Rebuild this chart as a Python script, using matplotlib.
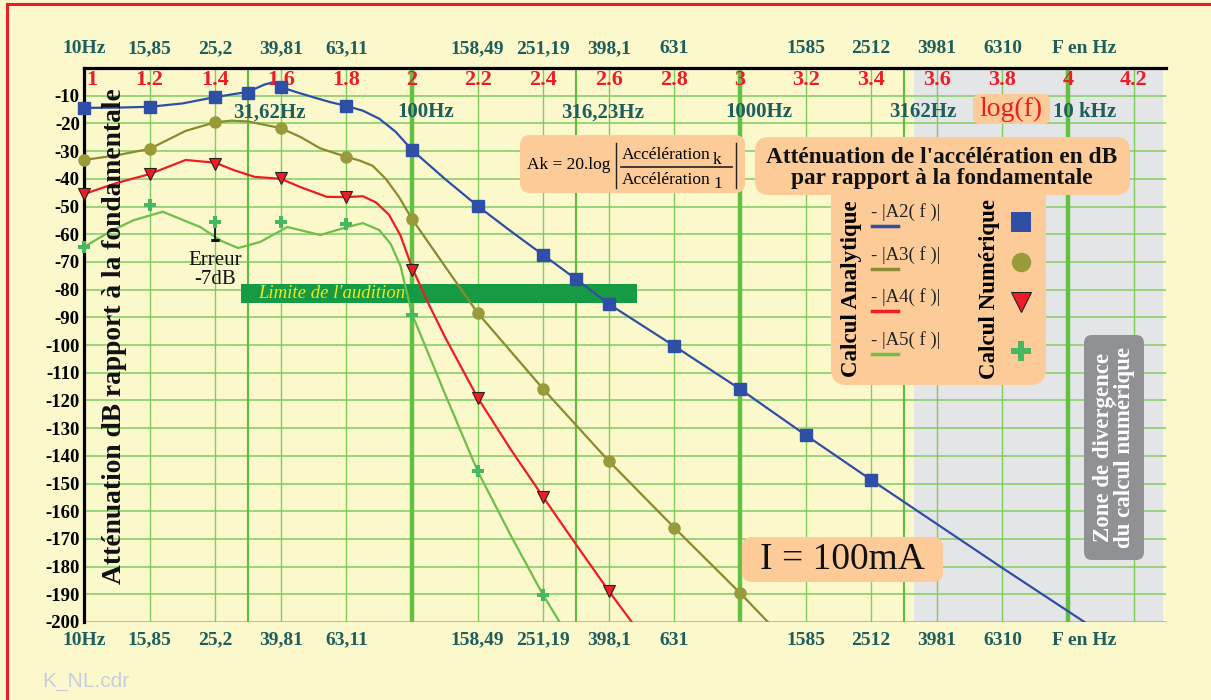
import matplotlib
matplotlib.use("Agg")
import matplotlib.pyplot as plt
import matplotlib.transforms as mtransforms
from matplotlib.patches import FancyBboxPatch, Rectangle
from matplotlib.lines import Line2D

# ==========================================
# Donnees (x = log10(f), y = dB)
# ==========================================
freq_pos = [1.0, 1.2, 1.4, 1.6, 1.8, 2.2, 2.4, 2.6, 2.8, 3.2, 3.4, 3.6, 3.8, 4.05]
freq_labels = ["10Hz", "15,85", "25,2", "39,81", "63,11", "158,49", "251,19",
               "398,1", "631", "1585", "2512", "3981", "6310", "F en Hz"]
log_pos = [1.0, 1.2, 1.4, 1.6, 1.8, 2.0, 2.2, 2.4, 2.6, 2.8, 3.0, 3.2, 3.4,
           3.6, 3.8, 4.0, 4.2]
log_labels = ["1", "1.2", "1.4", "1.6", "1.8", "2", "2.2", "2.4", "2.6", "2.8",
              "3", "3.2", "3.4", "3.6", "3.8", "4", "4.2"]
half_pos = [1.5, 2.0, 2.5, 3.0, 3.5, 4.0]
half_labels = ["31,62Hz", "100Hz", "316,23Hz", "1000Hz", "3162Hz", "10 kHz"]
db_ticks = [-10, -20, -30, -40, -50, -60, -70, -80, -90, -100, -110, -120,
            -130, -140, -150, -160, -170, -180, -190, -200]

# calcul analytique (courbes)
a2_x = [1.0, 1.1, 1.2, 1.3, 1.4, 1.5, 1.55, 1.575, 1.6, 1.65, 1.7, 1.75, 1.8,
        1.85, 1.9, 1.95, 2.0, 2.1, 2.2, 2.3, 2.4, 2.5, 2.6, 2.8, 3.0, 3.2, 3.4,
        3.6, 3.8, 4.05]
a2_y = [-14.4, -14.3, -14.0, -12.8, -10.5, -8.6, -6.0, -5.2, -6.9, -8.8, -10.6,
        -12.3, -13.7, -15.4, -18.3, -23.0, -29.6, -40.0, -49.8, -58.8, -67.5,
        -76.2, -85.2, -100.4, -115.9, -132.5, -148.7, -164.6, -180.5, -200.0]
a3_x = [1.0, 1.1, 1.2, 1.31, 1.4, 1.45, 1.5, 1.6, 1.66, 1.72, 1.8, 1.84, 1.88,
        1.92, 1.96, 2.0, 2.1, 2.2, 2.4, 2.6, 2.8, 3.0, 3.085]
a3_y = [-33.2, -31.5, -29.2, -22.7, -19.6, -19.0, -19.3, -21.7, -24.9, -29.0,
        -32.1, -33.4, -35.3, -40.0, -46.5, -54.5, -71.5, -88.4, -115.9, -141.9,
        -166.0, -189.5, -200.0]
a4_x = [1.0, 1.1, 1.2, 1.31, 1.4, 1.455, 1.52, 1.6, 1.66, 1.74, 1.8, 1.85,
        1.89, 1.93, 1.965, 2.0, 2.05, 2.1, 2.2, 2.3, 2.4, 2.5, 2.6, 2.67]
a4_y = [-45.5, -41.5, -38.3, -33.2, -34.2, -36.8, -39.3, -40.0, -43.0, -46.5,
        -46.6, -46.3, -48.5, -53.0, -60.5, -72.0, -85.0, -97.0, -119.0, -137.5,
        -154.9, -172.0, -188.8, -200.0]
a5_x = [1.0, 1.08, 1.15, 1.24, 1.354, 1.42, 1.47, 1.537, 1.62, 1.72, 1.8, 1.85,
        1.9, 1.935, 1.965, 2.0, 2.1, 2.2, 2.3, 2.4, 2.45]
a5_y = [-64.6, -59.0, -55.0, -51.9, -57.4, -62.5, -65.0, -62.8, -57.4, -60.3,
        -57.5, -56.0, -58.5, -63.5, -71.5, -88.8, -117.5, -145.5, -168.5,
        -190.3, -200.0]

# calcul numerique (points)
n2_x = [1.0, 1.2, 1.4, 1.5, 1.6, 1.8, 2.0, 2.2, 2.4, 2.5, 2.6, 2.8, 3.0, 3.2, 3.4]
n2_y = [-14.4, -14.1, -10.5, -9.0, -6.9, -13.7, -29.6, -49.8, -67.5, -76.2,
        -85.2, -100.4, -115.9, -132.5, -148.7]
n3_x = [1.0, 1.2, 1.4, 1.6, 1.8, 2.0, 2.2, 2.4, 2.6, 2.8, 3.0]
n3_y = [-33.2, -29.2, -19.5, -21.7, -32.1, -54.5, -88.4, -115.9, -141.9,
        -166.0, -189.5]
n4_x = [1.0, 1.2, 1.4, 1.6, 1.8, 2.0, 2.2, 2.4, 2.6]
n4_y = [-45.5, -38.3, -34.7, -39.7, -46.6, -72.9, -119.0, -154.9, -188.8]
n5_x = [1.0, 1.2, 1.4, 1.6, 1.8, 2.0, 2.2, 2.4]
n5_y = [-64.6, -49.5, -55.6, -55.6, -56.3, -89.2, -145.5, -190.3]

# erreur a 25,2 Hz et limite de l'audition
err_x = 1.4
err_y = [-55.4, -62.2]
audition_x = [1.48, 2.686]
audition_y = [-84.8, -78.0]
divergence_start = 3.53

# ==========================================
# Styles
# ==========================================
W, H = 1211, 700
SERIF = "Liberation Serif"
BG = "#fbf8cc"
PEACH = "#fccb98"
TEAL = "#1e5e5c"
RED = "#ee1c24"
C_BLUE = "#2e4fa5"
C_OLIVE = "#8c8a2e"
C_OLIVE_M = "#999a3a"
C_RED = "#ee1c24"
C_GREEN = "#6cbf48"
C_GREEN_M = "#45b860"

fig = plt.figure(figsize=(W / 100, H / 100), dpi=100, facecolor=BG)
ax = fig.add_axes([84 / W, 1 - 622 / H, (1166 - 84) / W, (622 - 68) / H])
ax.set_facecolor(BG)
ax.set_xlim(1.0, 1 + (1166 - 84) / 328)
ax.set_ylim(-200, 0)

# pixels de l'image (origine en haut a gauche)
PX = mtransforms.Affine2D().scale(1 / W, -1 / H).translate(0, 1) + fig.transFigure

# zone grise de divergence
ax.axvspan(divergence_start, 4.29, color="#e4e5e7", lw=0, zorder=0)

# quadrillage
for yv in range(-10, -201, -10):
    ax.axhline(yv, color="#92d273", lw=1.3, zorder=1)
for xv in log_pos[1:]:
    ax.axvline(xv, color="#7fcb5c", lw=1.0, zorder=1)
for xv in half_pos:
    if xv in (2.0, 3.0, 4.0):
        ax.axvline(xv, color="#62c043", lw=3.2, zorder=1)
    else:
        ax.axvline(xv, color="#5dbb3e", lw=1.5, zorder=1)

# limite de l'audition
ax.add_patch(Rectangle((audition_x[0], audition_y[0]), audition_x[1] - audition_x[0],
                       audition_y[1] - audition_y[0], color="#169a44", lw=0, zorder=2))
ax.text(audition_x[0] + 0.05, (audition_y[0] + audition_y[1]) / 2, "Limite de l'audition",
        color="#ecea1a", style="italic", family=SERIF, fontsize=13.5, va="center",
        ha="left", zorder=3)

# courbes analytiques
ax.plot(a2_x, a2_y, color=C_BLUE, lw=1.6, zorder=4)
ax.plot(a3_x, a3_y, color=C_OLIVE, lw=1.6, zorder=4)
ax.plot(a4_x, a4_y, color=C_RED, lw=1.6, zorder=4)
ax.plot(a5_x, a5_y, color=C_GREEN, lw=1.6, zorder=4)

# points numeriques
ax.plot(n2_x, n2_y, "s", color=C_BLUE, ms=8, zorder=8, clip_on=False)
ax.plot(n3_x, n3_y, "o", color=C_OLIVE_M, ms=8, zorder=8, clip_on=False)
ax.plot(n4_x, n4_y, "v", color=C_RED, mec="#222222", mew=0.8, ms=9, zorder=8,
        clip_on=False)
ax.plot(n5_x, n5_y, "P", color=C_GREEN_M, ms=8, mew=0, zorder=8, clip_on=False)

# barre d'erreur
ax.plot([err_x, err_x], err_y, color="#111111", lw=1.3, zorder=6)
ax.plot([err_x, err_x], [err_y[0], err_y[0]], marker="_", color="#111111", ms=6, mew=2, zorder=6)
ax.plot([err_x, err_x], [err_y[1], err_y[1]], marker="_", color="#111111", ms=6, mew=2, zorder=6)
ax.text(err_x, err_y[1] - 4, "Erreur\n-7dB", family=SERIF, fontsize=15, ha="center",
        va="top", linespacing=0.95, color="#111111", zorder=6)

# etiquettes log(f) et frequences internes
for xv, lab in zip(log_pos, log_labels):
    ax.text(xv + (0.006 if xv == 1.0 else 0), -4.4, lab, color=RED, family=SERIF,
            fontweight="bold", fontsize=16, ha="left" if xv == 1.0 else "center",
            va="center", zorder=6)
for xv, lab in zip(half_pos, half_labels):
    ax.text(xv - 0.045, -16.0, lab, color=TEAL, family=SERIF, fontweight="bold",
            fontsize=15, ha="left", va="center", zorder=6)

# axes
for s in ("right", "bottom"):
    ax.spines[s].set_visible(False)
ax.spines["left"].set_linewidth(2.3)
ax.spines["top"].set_linewidth(2.3)
ax.spines["left"].set_zorder(7)
ax.spines["top"].set_zorder(7)

ax.set_yticks(db_ticks)
ax.set_yticklabels([str(v) for v in db_ticks])
ax.tick_params(axis="y", length=0, pad=3, labelsize=13.5)
ax.set_xticks(freq_pos)
ax.set_xticklabels(freq_labels)
ax.tick_params(axis="x", length=0, pad=7, labelsize=14, labelcolor=TEAL)
for t in ax.get_yticklabels():
    t.set_family(SERIF)
    t.set_fontweight("bold")
for t in ax.get_xticklabels():
    t.set_family(SERIF)
    t.set_fontweight("bold")

top = ax.secondary_xaxis("top")
top.set_xticks(freq_pos)
top.set_xticklabels(freq_labels)
top.tick_params(length=0, pad=8, labelsize=14, labelcolor=TEAL)
top.spines["top"].set_visible(False)
for t in top.get_xticklabels():
    t.set_family(SERIF)
    t.set_fontweight("bold")

# titre de l'axe y
fig.text(115, 336, "Atténuation dB rapport à la fondamentale", transform=PX,
         rotation=90, ha="center", va="center", family=SERIF, fontweight="bold",
         fontsize=19.8, color="#111111", zorder=8)


def boite(x0, y0, x1, y1, color=PEACH, r=10):
    p = FancyBboxPatch((x0, y0), x1 - x0, y1 - y0,
                       boxstyle="round,pad=0,rounding_size=%d" % r,
                       transform=PX, facecolor=color, edgecolor="none", zorder=8)
    fig.add_artist(p)


# formule
boite(520, 135, 745, 193)
fig.text(527, 165, "Ak = 20.log", transform=PX, family=SERIF, fontsize=12.5,
         ha="left", va="center", zorder=9)
fig.add_artist(Line2D([616, 616], [143, 188], transform=PX, color="#222222", lw=1, zorder=9))
fig.add_artist(Line2D([736, 736], [143, 188], transform=PX, color="#222222", lw=1, zorder=9))
fig.add_artist(Line2D([621, 732], [167, 167], transform=PX, color="#222222", lw=1.2, zorder=9))
fig.text(622, 155, "Accélération", transform=PX, family=SERIF, fontsize=12.5,
         ha="left", va="center", zorder=9)
fig.text(713, 160, "k", transform=PX, family=SERIF, fontsize=12.5,
         ha="left", va="center", zorder=9)
fig.text(622, 180, "Accélération", transform=PX, family=SERIF, fontsize=12.5,
         ha="left", va="center", zorder=9)
fig.text(713, 184, "1", transform=PX, family=SERIF, fontsize=12.5,
         ha="left", va="center", zorder=9)

# titre et legende
boite(755, 137, 1130, 195, r=14)
boite(831, 180, 1046, 385, r=16)
fig.text(942, 168, "Atténuation de l'accélération en dB\npar rapport à la fondamentale",
         transform=PX, ha="center", va="center", family=SERIF, fontweight="bold",
         fontsize=16.8, linespacing=0.95, color="#111111", zorder=9)
fig.text(851, 289, "Calcul Analytique", transform=PX, rotation=90, ha="center",
         va="center", family=SERIF, fontweight="bold", fontsize=16.5, zorder=9)
fig.text(990, 289, "Calcul Numérique", transform=PX, rotation=90, ha="center",
         va="center", family=SERIF, fontweight="bold", fontsize=16.5, zorder=9)
leg_names = ["- |A2( f )|", "- |A3( f )|", "- |A4( f )|", "- |A5( f )|"]
leg_colors = [C_BLUE, C_OLIVE, C_RED, C_GREEN]
leg_text_y = [212, 255, 297, 340]
leg_marker_y = [222, 262, 302, 351]
leg_markers = [("s", C_BLUE, 14), ("o", C_OLIVE_M, 14), ("v", C_RED, 15), ("P", C_GREEN_M, 14)]
for name, col, ty, my, (mk, mc, ms) in zip(leg_names, leg_colors, leg_text_y,
                                            leg_marker_y, leg_markers):
    fig.text(871, ty, name, transform=PX, family=SERIF, fontsize=13.5, ha="left",
             va="center", color="#222222", zorder=9)
    fig.add_artist(Line2D([872, 898], [ty + 14, ty + 14], transform=PX, color=col,
                          lw=2.5, zorder=9))
    fig.add_artist(Line2D([1021], [my], transform=PX, marker=mk, color=mc, ms=ms,
                          mec="#222222" if mk == "v" else mc, mew=0.8 if mk == "v" else 0,
                          linestyle="none", zorder=9))

# log(f)
boite(973, 94, 1050, 124, r=7)
fig.text(1011, 109, "log(f)", transform=PX, ha="center", va="center", family=SERIF,
         fontsize=20, color=RED, zorder=9)

# I = 100mA
boite(742, 537, 943, 582, r=10)
fig.text(842, 560, "I = 100mA", transform=PX, ha="center", va="center", family=SERIF,
         fontsize=27, color="#111111", zorder=9)

# zone de divergence
boite(1084, 335, 1144, 560, color="#909195", r=8)
fig.text(1114, 447, "Zone de divergence\ndu calcul numérique", transform=PX, rotation=90,
         ha="center", va="center", family=SERIF, fontweight="bold", fontsize=16.5,
         linespacing=0.95, color="white", zorder=9)

# cadre rouge et nom du fichier
fig.add_artist(Line2D([7, 7], [4, 700], transform=PX, color="#e8202a", lw=2.2))
fig.add_artist(Line2D([7, 1211], [4, 4], transform=PX, color="#e8202a", lw=2.2))
fig.text(42, 681, "K_NL.cdr", transform=PX, ha="left", va="center",
         family="Liberation Sans", fontsize=15, color="#c9cbe0")

fig.savefig("out.png", dpi=100, facecolor=BG)
